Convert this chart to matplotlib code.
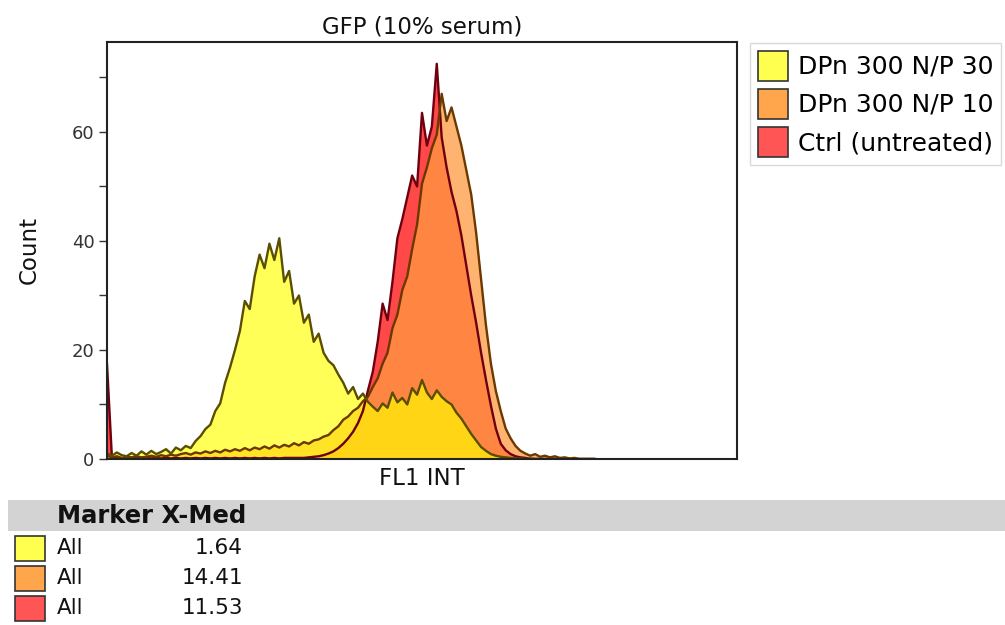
import matplotlib
matplotlib.use("Agg")
import matplotlib.pyplot as plt
import matplotlib.patches as patches
from matplotlib.ticker import MultipleLocator
import numpy as np

# histogram counts per channel bin (FL1 INT)
np30 = [1.0, 0.6, 1.2, 0.7, 0.5, 1.1, 0.6, 1.4, 0.8, 1.5,
        0.9, 1.3, 1.8, 1.0, 2.1, 1.6, 2.4, 2.0, 3.3, 4.2,
        5.5, 6.3, 8.8, 10.2, 14.0, 16.8, 20.0, 23.5, 29.0, 27.5,
        33.5, 37.5, 35.0, 39.5, 36.5, 40.5, 32.5, 34.5, 28.5, 30.0,
        25.0, 26.5, 21.5, 23.0, 19.5, 18.0, 17.2, 15.5, 14.0, 12.0,
        13.2, 11.0, 12.0, 10.5, 9.6, 8.8, 10.2, 9.4, 12.2, 10.4,
        11.2, 10.0, 13.0, 11.8, 14.5, 12.2, 11.0, 12.6, 11.4, 10.6,
        10.0, 8.5, 7.4, 6.0, 4.6, 3.4, 2.2, 1.5, 0.9, 0.6,
        0.4, 0.3, 0.2, 0.1, 0.1, 0.0, 0.1, 0.0, 0.0, 0.0,
        0.0, 0.0, 0.0, 0.0, 0.0, 0.0, 0.0, 0.0, 0.0, 0.0]

np10 = [0.6, 0.3, 0.5, 0.2, 0.4, 0.3, 0.5, 0.3, 0.4, 0.6,
        0.4, 0.7, 0.5, 0.8, 0.6, 0.9, 1.1, 0.8, 1.2, 1.0,
        1.4, 1.1, 1.5, 1.2, 1.7, 1.4, 1.8, 1.5, 2.0, 1.6,
        2.1, 1.8, 2.3, 1.9, 2.5, 2.1, 2.6, 2.3, 2.9, 2.5,
        3.1, 2.8, 3.4, 3.6, 4.1, 4.4, 5.3, 6.0, 7.2, 7.8,
        8.8, 9.4, 10.6, 11.4, 13.2, 14.8, 17.5, 19.5, 24.0, 26.5,
        31.0, 33.5, 38.5, 43.0, 50.5, 53.5, 57.0, 59.5, 67.0, 62.0,
        64.5, 61.0, 57.5, 53.0, 48.5, 41.5, 33.0, 24.5, 17.5, 12.5,
        8.8, 5.6, 3.8, 2.4, 1.5, 1.0, 0.6, 0.9, 0.4, 0.6,
        0.3, 0.5, 0.2, 0.3, 0.1, 0.2, 0.0, 0.0, 0.0, 0.0]

ctrl = [17.4, 0.3, 0.2, 0.1, 0.2, 0.1, 0.2, 0.1, 0.2, 0.1,
        0.2, 0.1, 0.2, 0.1, 0.2, 0.1, 0.2, 0.1, 0.2, 0.1,
        0.2, 0.1, 0.2, 0.1, 0.2, 0.1, 0.2, 0.1, 0.2, 0.1,
        0.2, 0.1, 0.2, 0.1, 0.2, 0.1, 0.2, 0.2, 0.2, 0.2,
        0.2, 0.3, 0.4, 0.5, 0.7, 1.0, 1.4, 2.0, 2.8, 3.8,
        5.0, 6.6, 8.8, 12.5, 16.0, 21.5, 28.5, 25.5, 32.5, 40.5,
        44.0, 48.0, 52.0, 50.0, 63.5, 57.5, 61.0, 72.5, 59.0, 53.5,
        49.0, 45.5, 41.0, 35.5, 30.0, 25.0, 19.5, 14.5, 9.8, 5.6,
        2.8, 1.6, 0.9, 0.5, 0.3, 0.2, 0.0, 0.0, 0.0, 0.0,
        0.0, 0.0, 0.0, 0.0, 0.0, 0.0, 0.0, 0.0, 0.0, 0.0]

labels = ["DPn 300 N/P 30", "DPn 300 N/P 10", "Ctrl (untreated)"]
markers = ["All", "All", "All"]
x_med = [1.64, 14.41, 11.53]

# цвета: заливка, контур, образцы в легенде
fills = ["#FFFF00", "#FF9A40", "#FF4848"]
edges = ["#5A4E00", "#6B3800", "#6E0010"]
swatches = ["#FFFF50", "#FFA64D", "#FF5555"]

W, H = 1005, 625
fig = plt.figure(figsize=(W / 100, H / 100), dpi=100)
ax = fig.add_axes([107 / W, 1 - 459 / H, 630 / W, 417 / H])

x = np.arange(len(np30))
series = [np30, np10, ctrl]
alphas = [0.66, 0.75, 1.0]

# рисуем снизу вверх: контроль, N/P 10, N/P 30
for k in [2, 1, 0]:
    ax.fill_between(x, series[k], color=fills[k], alpha=alphas[k], lw=0)
    ax.plot(x, series[k], color=edges[k], lw=1.7)

ax.set_xlim(0, 128)
ax.set_ylim(0, 76.5)
ax.set_xticks([])
ax.yaxis.set_major_locator(MultipleLocator(20))
ax.yaxis.set_minor_locator(MultipleLocator(10))
ax.tick_params(axis="y", which="both", length=6, width=1, color="#333333",
               labelsize=13, labelcolor="#333333", pad=3)
for sp in ax.spines.values():
    sp.set_linewidth(1.5)
    sp.set_color("#222222")

ax.set_title("GFP (10% serum)", fontsize=16.5, color="#111111", pad=6)
ax.set_xlabel("FL1 INT", fontsize=16.5, color="#111111", labelpad=6)
ax.set_ylabel("Count", fontsize=16.5, color="#111111", labelpad=22)

# легенда
handles = [patches.Patch(facecolor=swatches[i], edgecolor="#333333",
                         linewidth=1.2, label=labels[i]) for i in range(3)]
ax.legend(handles=handles, loc="upper left",
          bbox_to_anchor=(750 / W, 1 - 43 / H), bbox_transform=fig.transFigure,
          fontsize=18, frameon=True, fancybox=False, edgecolor="#D0D0D0",
          handlelength=1.2, handleheight=1.5, handletextpad=0.4,
          labelspacing=0.3, borderpad=0.3, borderaxespad=0)

# таблица маркеров
fig.patches.append(patches.Rectangle((8 / W, 1 - 531 / H), 1 - 8 / W, 31 / H,
                                     transform=fig.transFigure,
                                     facecolor="#D3D3D3", edgecolor="none"))
fig.text(57 / W, 1 - 516 / H, "Marker X-Med", fontsize=17.5, fontweight="bold",
         va="center", ha="left", color="#111111")
for i in range(3):
    yc = 548 + 30 * i
    fig.patches.append(patches.Rectangle((15 / W, 1 - (yc + 12.5) / H), 30 / W, 25 / H,
                                         transform=fig.transFigure,
                                         facecolor=swatches[i], edgecolor="#333333",
                                         linewidth=1.2))
    fig.text(57 / W, 1 - yc / H, markers[i], fontsize=15.5, va="center",
             ha="left", color="#111111")
    fig.text(243 / W, 1 - yc / H, f"{x_med[i]:.2f}", fontsize=15.5,
             va="center", ha="right", color="#111111")

plt.savefig("out.png", dpi=100, facecolor="white")
plt.close()
